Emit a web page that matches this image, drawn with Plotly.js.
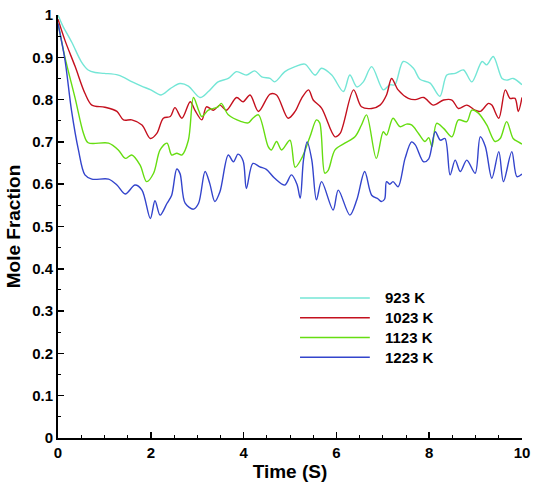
<!DOCTYPE html>
<html>
<head>
<meta charset="utf-8">
<script src="https://cdn.plot.ly/plotly-3.0.1.min.js"></script>
<style>html,body{margin:0;padding:0;background:#fff;}#chart{width:541px;height:487px;}</style>
</head>
<body>
<div id="chart"></div>
<script>
var seriesNames = ["923 K", "1023 K", "1123 K", "1223 K"];
var seriesColors = ["#74e6d6", "#c4101e", "#66dd11", "#3344cc"];

var t923 = [0,0.1,0.3,0.5,0.65,0.8,1.0,1.3,1.6,1.8,2.0,2.22,2.42,2.63,2.81,3.06,3.24,3.45,3.67,3.85,4.06,4.24,4.39,4.57,4.67,4.89,5.11,5.32,5.54,5.68,5.9,6.15,6.29,6.44,6.58,6.76,7.01,7.15,7.26,7.44,7.66,7.8,8.02,8.23,8.38,8.56,8.74,8.92,9.14,9.24,9.38,9.57,9.67,9.81,10.0];
var y923 = [1.0,0.975,0.935,0.89,0.87,0.864,0.862,0.858,0.842,0.832,0.823,0.811,0.826,0.838,0.832,0.805,0.819,0.842,0.85,0.866,0.858,0.868,0.854,0.85,0.842,0.866,0.878,0.884,0.858,0.874,0.858,0.819,0.858,0.83,0.842,0.878,0.823,0.835,0.835,0.89,0.874,0.848,0.839,0.808,0.858,0.862,0.87,0.842,0.89,0.882,0.902,0.85,0.846,0.85,0.835];

var t1023 = [0,0.15,0.37,0.58,0.73,1.01,1.27,1.41,1.59,1.81,1.99,2.13,2.27,2.42,2.52,2.67,2.85,2.95,3.1,3.2,3.35,3.49,3.63,3.85,3.99,4.14,4.32,4.57,4.71,4.96,5.11,5.25,5.4,5.5,5.68,5.97,6.08,6.37,6.54,6.76,6.94,7.08,7.19,7.33,7.55,7.7,7.88,8.09,8.31,8.49,8.63,8.81,8.99,9.1,9.28,9.35,9.5,9.64,9.74,9.85,9.92,10.0];
var y1023 = [0.99,0.94,0.878,0.815,0.787,0.782,0.772,0.752,0.752,0.74,0.708,0.72,0.756,0.76,0.781,0.756,0.795,0.775,0.752,0.783,0.775,0.787,0.775,0.805,0.795,0.811,0.772,0.813,0.811,0.756,0.772,0.803,0.823,0.799,0.78,0.712,0.72,0.823,0.783,0.779,0.787,0.811,0.85,0.823,0.803,0.80,0.805,0.787,0.799,0.799,0.779,0.787,0.775,0.772,0.791,0.787,0.756,0.823,0.803,0.803,0.772,0.805];

var t1123 = [0,0.15,0.37,0.55,0.65,1.09,1.3,1.45,1.59,1.77,1.91,2.06,2.2,2.35,2.45,2.56,2.67,2.81,2.92,3.03,3.1,3.24,3.45,3.52,3.67,3.95,4.1,4.2,4.32,4.53,4.6,4.71,4.82,5.0,5.11,5.25,5.43,5.57,5.64,5.75,5.82,5.97,6.18,6.4,6.54,6.65,6.86,7.01,7.08,7.22,7.37,7.51,7.62,7.77,7.91,7.99,8.06,8.16,8.31,8.49,8.63,8.81,8.92,9.06,9.24,9.42,9.53,9.67,9.81,9.92,10.0];
var y1123 = [0.98,0.9,0.803,0.72,0.698,0.697,0.681,0.661,0.669,0.645,0.606,0.626,0.681,0.697,0.669,0.673,0.669,0.704,0.805,0.775,0.76,0.775,0.783,0.791,0.764,0.748,0.745,0.756,0.764,0.689,0.681,0.701,0.681,0.704,0.64,0.661,0.712,0.752,0.745,0.626,0.632,0.681,0.697,0.712,0.74,0.764,0.661,0.724,0.716,0.756,0.736,0.742,0.74,0.72,0.701,0.71,0.689,0.744,0.732,0.712,0.752,0.748,0.775,0.768,0.74,0.701,0.708,0.748,0.708,0.700,0.695];

var t1223 = [0,0.15,0.29,0.44,0.58,0.73,1.09,1.27,1.45,1.66,1.81,1.99,2.09,2.2,2.35,2.45,2.56,2.63,2.74,2.92,3.03,3.17,3.27,3.38,3.49,3.67,3.78,3.88,3.99,4.06,4.2,4.35,4.49,4.67,4.89,5.03,5.15,5.22,5.29,5.37,5.47,5.57,5.68,5.93,6.04,6.29,6.44,6.61,6.76,6.9,6.97,7.04,7.08,7.15,7.22,7.33,7.48,7.62,7.7,7.88,7.99,8.13,8.24,8.34,8.45,8.56,8.67,8.81,8.99,9.1,9.21,9.35,9.5,9.6,9.78,9.89,10.0];
var y1223 = [0.98,0.894,0.775,0.681,0.622,0.612,0.612,0.598,0.577,0.598,0.586,0.519,0.561,0.527,0.555,0.574,0.636,0.625,0.555,0.541,0.555,0.63,0.602,0.559,0.582,0.669,0.653,0.671,0.655,0.59,0.649,0.641,0.635,0.614,0.598,0.622,0.6,0.567,0.657,0.7,0.657,0.563,0.606,0.539,0.586,0.527,0.563,0.63,0.574,0.565,0.559,0.565,0.606,0.600,0.606,0.594,0.661,0.7,0.693,0.653,0.66,0.724,0.704,0.708,0.622,0.657,0.63,0.657,0.626,0.712,0.689,0.614,0.677,0.606,0.677,0.618,0.624];

var xs = [t923, t1023, t1123, t1223];
var ys = [y923, y1023, y1123, y1223];

var font = {family: "Liberation Sans, Arial, sans-serif", color: "#000", weight: "bold"};
function f(size){ return {family: font.family, color: font.color, weight: font.weight, size: size}; }

var traces = [];
var shapes = [];
var annotations = [];
for (var i = 0; i < seriesNames.length; i++) {
  traces.push({
    x: xs[i], y: ys[i], type: "scatter", mode: "lines", name: seriesNames[i],
    line: {color: seriesColors[i], width: 1.4, shape: "spline", smoothing: 0.9},
    showlegend: false, hoverinfo: "skip"
  });
  var ly = 0.331 - i * 0.0467;
  shapes.push({type: "line", xref: "paper", yref: "paper", x0: 0.5216, x1: 0.672, y0: ly, y1: ly,
    line: {color: seriesColors[i], width: 1.6}});
  annotations.push({xref: "paper", yref: "paper", x: 0.70, y: ly, xanchor: "left", yanchor: "middle",
    text: seriesNames[i], showarrow: false, font: f(15)});
}

var layout = {
  width: 541, height: 487,
  margin: {l: 58, r: 19, t: 15, b: 49, pad: 0},
  paper_bgcolor: "#fff", plot_bgcolor: "#fff",
  showlegend: false,
  xaxis: {
    range: [0, 10], dtick: 2, tick0: 0, ticks: "inside", ticklen: 6, tickwidth: 1.5, tickcolor: "#000",
    showline: true, linecolor: "#000", linewidth: 2, showgrid: false, zeroline: false,
    tickfont: f(15),
    minor: {dtick: 0.5, ticks: "inside", ticklen: 3, tickwidth: 1, tickcolor: "#000", showgrid: false},
    title: {text: "Time (S)", font: f(19), standoff: 5}
  },
  yaxis: {
    range: [0, 1], dtick: 0.1, tick0: 0, ticks: "inside", ticklen: 6, tickwidth: 1.5, tickcolor: "#000",
    showline: true, linecolor: "#000", linewidth: 2, showgrid: false, zeroline: false,
    tickfont: f(15),
    minor: {dtick: 0.05, ticks: "inside", ticklen: 3, tickwidth: 1, tickcolor: "#000", showgrid: false},
    title: {text: "Mole Fraction", font: f(19), standoff: 6}
  },
  shapes: shapes,
  annotations: annotations
};

Plotly.newPlot("chart", traces, layout, {staticPlot: true, displayModeBar: false});
</script>
</body>
</html>
